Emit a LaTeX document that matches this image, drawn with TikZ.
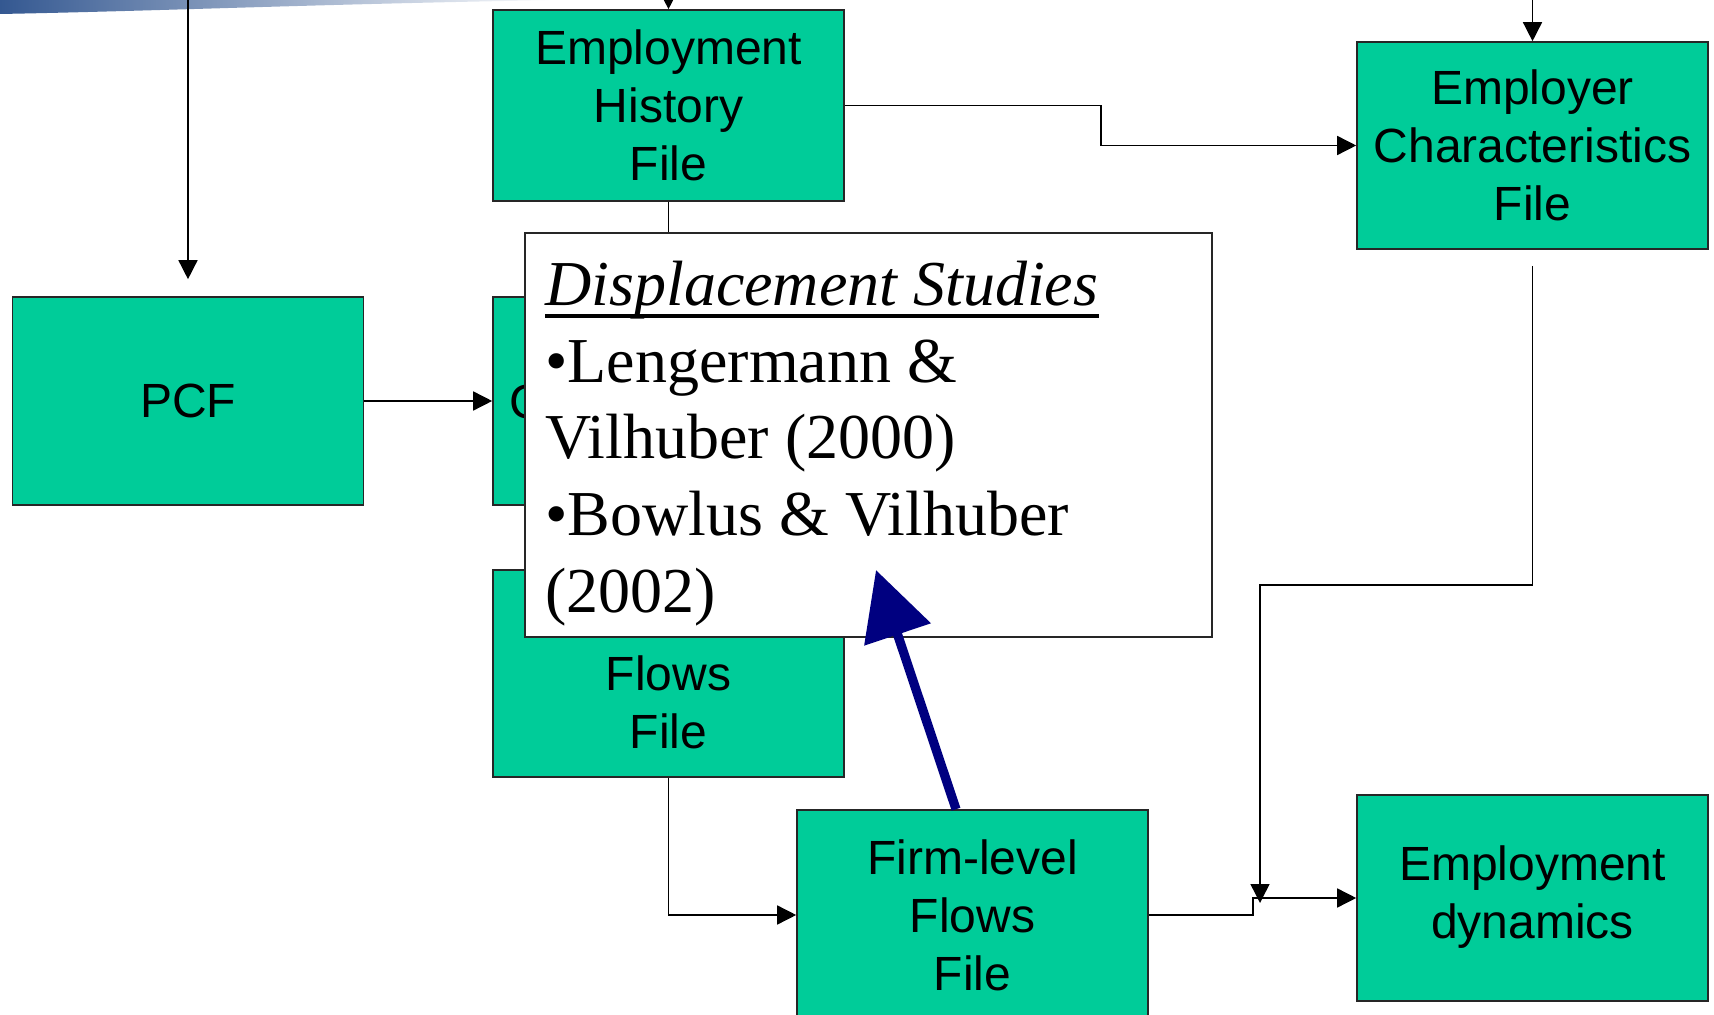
\documentclass[tikz,border=0pt]{standalone}
\usepackage{fontspec}
\setmainfont{Liberation Serif}
\newfontfamily\arialfont{Liberation Sans}
\usetikzlibrary{arrows.meta}

\definecolor{boxgreen}{RGB}{0,204,153}
\definecolor{navyarrow}{RGB}{0,0,128}
\definecolor{bardark}{RGB}{52,88,145}

\tikzset{
  gbox/.style={draw=black!85, line width=0.8pt, fill=boxgreen, rectangle,
    inner sep=0pt, minimum width=175.5pt, align=center,
    font=\arialfont\fontsize{24}{29}\selectfont},
  conn/.style={line width=0.75pt, draw=black},
  arr/.style={conn, -{Triangle[length=9.5pt,width=9.5pt]}},
  notebox/.style={draw=black!85, line width=0.8pt, fill=white, rectangle,
    inner sep=0pt, minimum width=343.5pt, minimum height=202pt},
  noteline/.style={anchor=base west, inner sep=0pt,
    font=\fontsize{32}{38}\selectfont},
  bigarr/.style={line width=4.6pt, draw=navyarrow,
    -{Triangle[length=34pt,width=34pt]}}
}

\begin{document}
\begin{tikzpicture}[x=0.5pt, y=-0.5pt]
  \useasboundingbox (0,0) rectangle (1714,1015);

  % header band fading to white
  \shade[left color=bardark, right color=white, draw=none]
    (0,0) -- (0,14) .. controls (160,11) and (320,4) .. (560,0) -- cycle;

  % file boxes
  \node[gbox, minimum height=104pt] (pcf) at (188,401) {PCF};
  \node[gbox, minimum height=95.5pt] (ehf) at (668.5,105.5) {Employment\\History\\File};
  \node[gbox, minimum height=103.5pt] (ecf) at (1532.5,145.5) {Employer\\Characteristics\\File};
  \node[gbox, minimum height=104pt] (icf) at (668.5,401) {Individual\\Characteristics\\File};
  \node[gbox, minimum height=103.5pt] (wff) at (668.5,673.5) {Worker\\Flows\\File};
  \node[gbox, minimum height=105pt] (ffl) at (972.5,915) {Firm-level\\Flows\\File};
  \node[gbox, minimum height=103pt] (edy) at (1532.5,898) {\raisebox{-3pt}{\begin{tabular}{@{}c@{}}Employment\\dynamics\end{tabular}}};

  % free ends of connectors
  \coordinate (inpcf) at (188,0);
  \coordinate (inehf) at (668.5,0);
  \coordinate (inecf) at (1532.5,0);
  \coordinate (bend) at (1260,585);
  \coordinate (drop) at (1260,903);
  \coordinate (tip) at (876,570);

  % connectors
  \draw[arr] (inpcf) -- ([yshift=8.5pt]pcf.north);
  \draw[arr] (inehf) -- (ehf.north);
  \draw[arr] (inecf) -- (ecf.north);
  \draw[arr] (ehf.east) -- ++(256,0) |- (ecf.west);
  \draw[conn] (ehf.south) -- (icf.north);
  \draw[arr] (pcf.east) -- (icf.west);
  \draw[conn] (icf.south) -- (wff.north);
  \draw[arr] (wff.south) |- (ffl.west);
  \draw[arr] (ffl.east) -- ++(104,0) |- (edy.west);
  \draw[arr] ([yshift=-8pt]ecf.south) |- (bend) -- (drop);

  % study note
  \node[notebox] (note) at (868.5,435) {};
  \node[noteline] (dsA) at (545,306) {\textit{Displacement Studies}};
  \draw[line width=1.7pt] ([yshift=-5pt]dsA.base west) -- ([yshift=-5pt]dsA.base east);
  \node[noteline] (dsB) at (545,383) {•Lengermann \&};
  \node[noteline] (dsC) at (545,459) {Vilhuber (2000)};
  \node[noteline] (dsD) at (545,536) {•Bowlus \& Vilhuber};
  \node[noteline] (dsE) at (545,613) {(2002)};

  % pointer from firm-level flows to the note
  \draw[bigarr] ([xshift=-8.25pt]ffl.north) -- (tip);
\end{tikzpicture}
\end{document}
